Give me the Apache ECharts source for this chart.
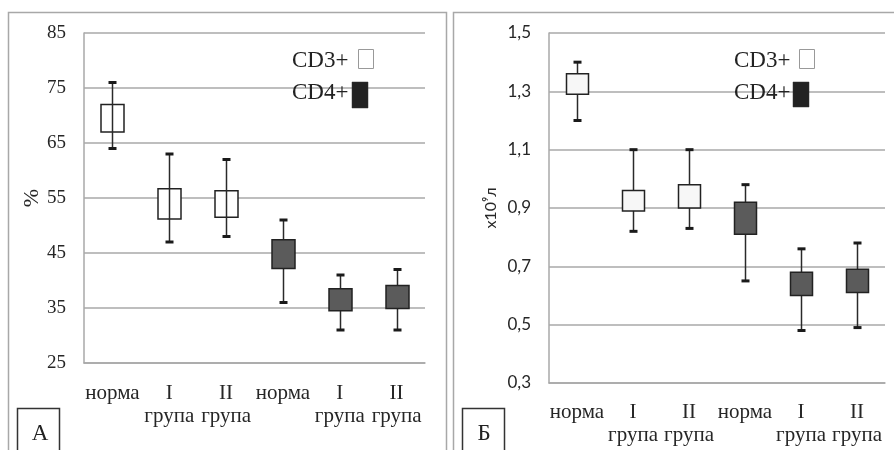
<!DOCTYPE html>
<html>
<head>
<meta charset="utf-8">
<script src="https://cdn.jsdelivr.net/npm/echarts@6/dist/echarts.min.js"></script>
<style>
html,body{margin:0;padding:0;background:#fff;}
#chart{width:894px;height:450px;}
</style>
</head>
<body>
<div id="chart"></div>
<script>
// Categories (both panels)
const categories = ['норма', 'I\nгрупа', 'II\nгрупа', 'норма', 'I\nгрупа', 'II\nгрупа'];
// Panel А (%): [min, Q1, Q3, max]
const pctCD3 = [[64, 67, 72, 76], [47, 51.2, 56.7, 63], [48, 51.5, 56.3, 62]];
const pctCD4 = [[36, 42.2, 47.4, 51], [31, 34.5, 38.5, 41], [31, 34.9, 39.1, 42]];
// Panel Б (x10^9/л): [min, Q1, Q3, max]
const absCD3 = [[1.20, 1.29, 1.36, 1.40], [0.82, 0.89, 0.96, 1.10], [0.83, 0.90, 0.98, 1.10]];
const absCD4 = [[0.65, 0.81, 0.92, 0.98], [0.48, 0.60, 0.68, 0.76], [0.49, 0.61, 0.69, 0.78]];
// Axis settings
const pctAxis = { min: 25, max: 85, interval: 10 };
const absAxis = { min: 0.3, max: 1.5, interval: 0.2 };
const legendNames = ['CD3+', 'CD4+'];
const panelLetters = ['А', 'Б'];

const SERIF = '"Liberation Serif", "Times New Roman", serif';
const SANS = 'Lato, "Liberation Sans", "DejaVu Sans", sans-serif';
const GRID_COLOR = '#a8a8a8';

function makeRender(fill, stroke, stemOnTop, boxW) {
  return function (params, api) {
    const c = api.value(0);
    const pLo = api.coord([c, api.value(1)]);
    const pQ1 = api.coord([c, api.value(2)]);
    const pQ3 = api.coord([c, api.value(3)]);
    const pHi = api.coord([c, api.value(4)]);
    const x = Math.round(pLo[0]) + 0.5;
    const stem = {
      type: 'line',
      shape: { x1: x, y1: pHi[1], x2: x, y2: pLo[1] },
      style: { stroke: '#2a2a2a', lineWidth: 1.5 }
    };
    const box = {
      type: 'rect',
      shape: { x: x - boxW / 2, y: pQ3[1], width: boxW, height: pQ1[1] - pQ3[1] },
      style: { fill: fill, stroke: stroke, lineWidth: 1.5 }
    };
    const capHi = {
      type: 'line',
      shape: { x1: x - 4, y1: pHi[1], x2: x + 4, y2: pHi[1] },
      style: { stroke: '#1a1a1a', lineWidth: 3 }
    };
    const capLo = {
      type: 'line',
      shape: { x1: x - 4, y1: pLo[1], x2: x + 4, y2: pLo[1] },
      style: { stroke: '#1a1a1a', lineWidth: 3 }
    };
    const children = stemOnTop ? [box, stem, capHi, capLo] : [stem, box, capHi, capLo];
    return { type: 'group', children: children };
  };
}

function toData(arr, offset) {
  return arr.map((d, i) => [i + offset].concat(d));
}

function xAxisCfg(gridIndex, margin) {
  return {
    type: 'category',
    gridIndex: gridIndex,
    data: categories,
    axisLine: { show: true, lineStyle: { color: GRID_COLOR, width: 1.5 } },
    axisTick: { show: false },
    axisLabel: {
      interval: 0, margin: margin, fontFamily: SERIF, fontSize: 21, lineHeight: 23, color: '#262626'
    },
    splitLine: { show: false }
  };
}

const chart = echarts.init(document.getElementById('chart'), null, { renderer: 'canvas' });

const option = {
  animation: false,
  backgroundColor: '#fff',
  grid: [
    { left: 84, top: 33, width: 341, height: 330 },
    { left: 549, top: 33, width: 336, height: 350 }
  ],
  xAxis: [xAxisCfg(0, 19), xAxisCfg(1, 18)],
  yAxis: [
    {
      type: 'value', gridIndex: 0,
      min: pctAxis.min, max: pctAxis.max, interval: pctAxis.interval,
      name: '%', nameLocation: 'middle', nameGap: 39, nameRotate: 90,
      nameTextStyle: { fontFamily: SERIF, fontSize: 22, color: '#262626' },
      axisLine: { show: true, lineStyle: { color: GRID_COLOR, width: 1.5 } },
      axisTick: { show: false },
      axisLabel: { margin: 18, fontFamily: SERIF, fontSize: 19, color: '#262626' },
      splitLine: { show: true, lineStyle: { color: GRID_COLOR, width: 1.5 } }
    },
    {
      type: 'value', gridIndex: 1,
      min: absAxis.min, max: absAxis.max, interval: absAxis.interval,
      name: 'x10⁹л', nameLocation: 'middle', nameGap: 50, nameRotate: 90,
      nameTextStyle: { fontFamily: SANS, fontSize: 16, color: '#262626' },
      axisLine: { show: true, lineStyle: { color: GRID_COLOR, width: 1.5 } },
      axisTick: { show: false },
      axisLabel: {
        margin: 18, fontFamily: SANS, fontSize: 17, color: '#262626',
        formatter: v => v.toFixed(1).replace('.', ',')
      },
      splitLine: { show: true, lineStyle: { color: GRID_COLOR, width: 1.5 } }
    }
  ],
  series: [
    {
      name: 'CD3+ %', type: 'custom', xAxisIndex: 0, yAxisIndex: 0,
      renderItem: makeRender('#ffffff', '#222', true, 23),
      encode: { x: 0, y: [1, 2, 3, 4] },
      data: toData(pctCD3, 0), z: 5
    },
    {
      name: 'CD4+ %', type: 'custom', xAxisIndex: 0, yAxisIndex: 0,
      renderItem: makeRender('#5b5b5b', '#222', false, 23),
      encode: { x: 0, y: [1, 2, 3, 4] },
      data: toData(pctCD4, 3), z: 5
    },
    {
      name: 'CD3+ abs', type: 'custom', xAxisIndex: 1, yAxisIndex: 1,
      renderItem: makeRender('#f7f7f7', '#222', false, 22),
      encode: { x: 0, y: [1, 2, 3, 4] },
      data: toData(absCD3, 0), z: 5
    },
    {
      name: 'CD4+ abs', type: 'custom', xAxisIndex: 1, yAxisIndex: 1,
      renderItem: makeRender('#5b5b5b', '#222', false, 22),
      encode: { x: 0, y: [1, 2, 3, 4] },
      data: toData(absCD4, 3), z: 5
    }
  ],
  graphic: [
    // panel frames
    { type: 'rect', z: 0, silent: true, shape: { x: 8.5, y: 12.5, width: 438, height: 460 },
      style: { fill: 'none', stroke: '#a8a8a8', lineWidth: 1.5 } },
    { type: 'rect', z: 0, silent: true, shape: { x: 453.5, y: 12.5, width: 460, height: 460 },
      style: { fill: 'none', stroke: '#a8a8a8', lineWidth: 1.5 } },
    // panel letter boxes
    { type: 'rect', z: 10, shape: { x: 17.5, y: 408.5, width: 42, height: 60 },
      style: { fill: '#fff', stroke: '#333', lineWidth: 1.5 } },
    { type: 'text', z: 11, style: { x: 40, y: 434, text: panelLetters[0], font: '23px ' + SERIF, fill: '#222', align: 'center', verticalAlign: 'middle' } },
    { type: 'rect', z: 10, shape: { x: 462.5, y: 408.5, width: 42, height: 60 },
      style: { fill: '#fff', stroke: '#333', lineWidth: 1.5 } },
    { type: 'text', z: 11, style: { x: 484, y: 434, text: panelLetters[1], font: '23px ' + SERIF, fill: '#222', align: 'center', verticalAlign: 'middle' } },
    // legend panel А
    { type: 'text', z: 11, style: { x: 292, y: 61, text: legendNames[0], font: '23px ' + SERIF, fill: '#222', verticalAlign: 'middle' } },
    { type: 'rect', z: 11, shape: { x: 358.5, y: 49.5, width: 15, height: 19 },
      style: { fill: '#fff', stroke: '#999', lineWidth: 1 } },
    { type: 'text', z: 11, style: { x: 292, y: 93, text: legendNames[1], font: '23px ' + SERIF, fill: '#222', verticalAlign: 'middle' } },
    { type: 'rect', z: 11, shape: { x: 352, y: 82, width: 16, height: 26 },
      style: { fill: '#222', stroke: '#333', lineWidth: 0.5 } },
    // legend panel Б
    { type: 'text', z: 11, style: { x: 734, y: 61, text: legendNames[0], font: '23px ' + SERIF, fill: '#222', verticalAlign: 'middle' } },
    { type: 'rect', z: 11, shape: { x: 799.5, y: 49.5, width: 15, height: 19 },
      style: { fill: '#fff', stroke: '#999', lineWidth: 1 } },
    { type: 'text', z: 11, style: { x: 734, y: 93, text: legendNames[1], font: '23px ' + SERIF, fill: '#222', verticalAlign: 'middle' } },
    { type: 'rect', z: 11, shape: { x: 793, y: 82, width: 16, height: 25 },
      style: { fill: '#222', stroke: '#333', lineWidth: 0.5 } }
  ]
};
chart.setOption(option);
</script>
</body>
</html>
